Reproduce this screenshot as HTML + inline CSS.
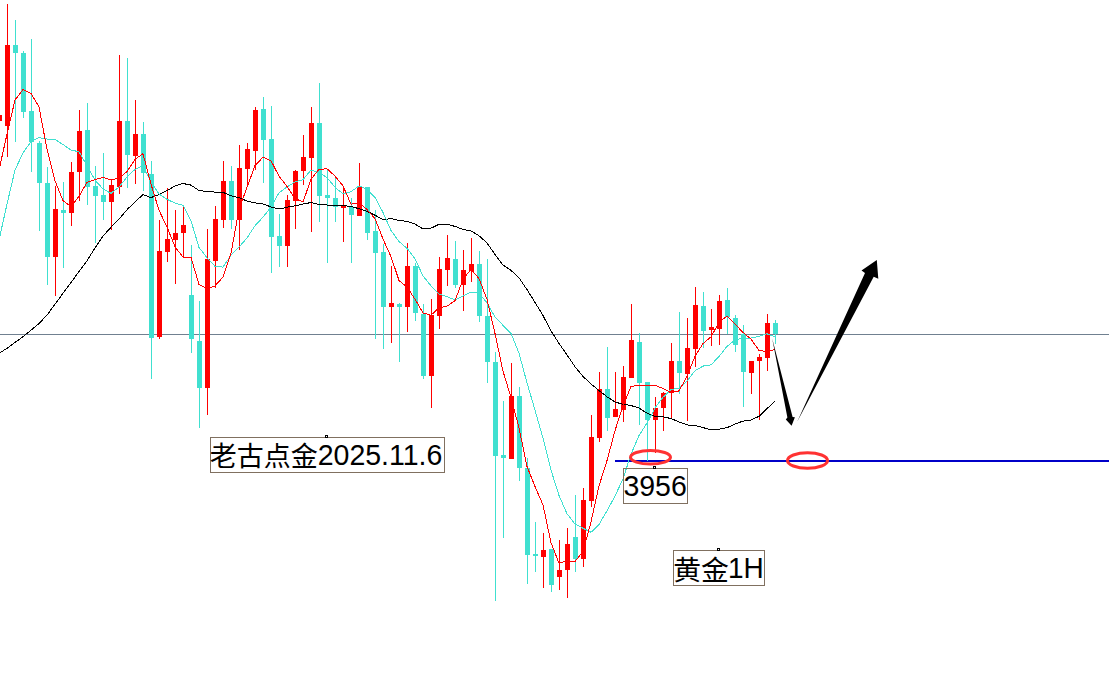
<!DOCTYPE html>
<html><head><meta charset="utf-8"><style>
html,body{margin:0;padding:0;background:#fff;}
body{width:1109px;height:684px;overflow:hidden;}
svg{display:block;}
</style></head><body>
<svg width="1109" height="684" viewBox="0 0 1109 684">
<rect width="1109" height="684" fill="#ffffff"/>
<rect x="0" y="334" width="1109" height="1" fill="#708090"/>
<rect x="615" y="460" width="494" height="2" fill="#0000c8"/>
<g shape-rendering="crispEdges">
<rect x="-1" y="112" width="1" height="12" fill="#ff0000"/><rect x="-3" y="115" width="5" height="6" fill="#ff0000"/><rect x="7" y="4" width="1" height="153" fill="#ff0000"/><rect x="5" y="45" width="5" height="81" fill="#ff0000"/><rect x="15" y="20" width="1" height="122" fill="#40e0d0"/><rect x="13" y="45" width="5" height="8" fill="#40e0d0"/><rect x="23" y="51" width="1" height="67" fill="#40e0d0"/><rect x="21" y="53" width="5" height="59" fill="#40e0d0"/><rect x="31" y="39" width="1" height="133" fill="#40e0d0"/><rect x="29" y="111" width="5" height="31" fill="#40e0d0"/><rect x="39" y="141" width="1" height="90" fill="#40e0d0"/><rect x="37" y="143" width="5" height="40" fill="#40e0d0"/><rect x="47" y="167" width="1" height="118" fill="#40e0d0"/><rect x="45" y="183" width="5" height="74" fill="#40e0d0"/><rect x="55" y="186" width="1" height="110" fill="#ff0000"/><rect x="53" y="209" width="5" height="48" fill="#ff0000"/><rect x="63" y="182" width="1" height="86" fill="#40e0d0"/><rect x="61" y="210" width="5" height="3" fill="#40e0d0"/><rect x="71" y="162" width="1" height="64" fill="#ff0000"/><rect x="69" y="172" width="5" height="41" fill="#ff0000"/><rect x="79" y="110" width="1" height="91" fill="#ff0000"/><rect x="77" y="131" width="5" height="41" fill="#ff0000"/><rect x="87" y="103" width="1" height="102" fill="#40e0d0"/><rect x="85" y="130" width="5" height="57" fill="#40e0d0"/><rect x="95" y="166" width="1" height="77" fill="#40e0d0"/><rect x="93" y="186" width="5" height="10" fill="#40e0d0"/><rect x="103" y="153" width="1" height="67" fill="#40e0d0"/><rect x="101" y="195" width="5" height="7" fill="#40e0d0"/><rect x="111" y="180" width="1" height="50" fill="#ff0000"/><rect x="109" y="185" width="5" height="17" fill="#ff0000"/><rect x="119" y="55" width="1" height="139" fill="#ff0000"/><rect x="117" y="121" width="5" height="66" fill="#ff0000"/><rect x="127" y="58" width="1" height="130" fill="#40e0d0"/><rect x="125" y="121" width="5" height="34" fill="#40e0d0"/><rect x="135" y="100" width="1" height="84" fill="#ff0000"/><rect x="133" y="134" width="5" height="22" fill="#ff0000"/><rect x="143" y="122" width="1" height="69" fill="#40e0d0"/><rect x="141" y="134" width="5" height="39" fill="#40e0d0"/><rect x="151" y="161" width="1" height="218" fill="#40e0d0"/><rect x="149" y="174" width="5" height="164" fill="#40e0d0"/><rect x="159" y="220" width="1" height="119" fill="#ff0000"/><rect x="157" y="251" width="5" height="86" fill="#ff0000"/><rect x="167" y="188" width="1" height="74" fill="#ff0000"/><rect x="165" y="239" width="5" height="13" fill="#ff0000"/><rect x="175" y="210" width="1" height="74" fill="#ff0000"/><rect x="173" y="233" width="5" height="7" fill="#ff0000"/><rect x="183" y="207" width="1" height="51" fill="#ff0000"/><rect x="181" y="225" width="5" height="8" fill="#ff0000"/><rect x="191" y="245" width="1" height="108" fill="#40e0d0"/><rect x="189" y="295" width="5" height="44" fill="#40e0d0"/><rect x="199" y="301" width="1" height="127" fill="#40e0d0"/><rect x="197" y="341" width="5" height="47" fill="#40e0d0"/><rect x="207" y="229" width="1" height="186" fill="#ff0000"/><rect x="205" y="259" width="5" height="129" fill="#ff0000"/><rect x="215" y="206" width="1" height="82" fill="#ff0000"/><rect x="213" y="219" width="5" height="42" fill="#ff0000"/><rect x="223" y="161" width="1" height="67" fill="#ff0000"/><rect x="221" y="181" width="5" height="39" fill="#ff0000"/><rect x="231" y="166" width="1" height="63" fill="#40e0d0"/><rect x="229" y="181" width="5" height="39" fill="#40e0d0"/><rect x="239" y="145" width="1" height="105" fill="#ff0000"/><rect x="237" y="168" width="5" height="52" fill="#ff0000"/><rect x="247" y="143" width="1" height="44" fill="#ff0000"/><rect x="245" y="149" width="5" height="20" fill="#ff0000"/><rect x="255" y="107" width="1" height="63" fill="#ff0000"/><rect x="253" y="110" width="5" height="41" fill="#ff0000"/><rect x="263" y="97" width="1" height="86" fill="#40e0d0"/><rect x="261" y="109" width="5" height="31" fill="#40e0d0"/><rect x="271" y="106" width="1" height="167" fill="#40e0d0"/><rect x="269" y="139" width="5" height="98" fill="#40e0d0"/><rect x="279" y="214" width="1" height="53" fill="#40e0d0"/><rect x="277" y="236" width="5" height="10" fill="#40e0d0"/><rect x="287" y="195" width="1" height="72" fill="#ff0000"/><rect x="285" y="200" width="5" height="46" fill="#ff0000"/><rect x="295" y="170" width="1" height="59" fill="#ff0000"/><rect x="293" y="171" width="5" height="30" fill="#ff0000"/><rect x="303" y="135" width="1" height="50" fill="#ff0000"/><rect x="301" y="157" width="5" height="14" fill="#ff0000"/><rect x="311" y="107" width="1" height="125" fill="#ff0000"/><rect x="309" y="123" width="5" height="35" fill="#ff0000"/><rect x="319" y="83" width="1" height="139" fill="#40e0d0"/><rect x="317" y="123" width="5" height="73" fill="#40e0d0"/><rect x="327" y="170" width="1" height="93" fill="#40e0d0"/><rect x="325" y="195" width="5" height="3" fill="#40e0d0"/><rect x="335" y="177" width="1" height="45" fill="#40e0d0"/><rect x="333" y="198" width="5" height="9" fill="#40e0d0"/><rect x="343" y="188" width="1" height="54" fill="#ff0000"/><rect x="341" y="206" width="5" height="2" fill="#ff0000"/><rect x="351" y="198" width="1" height="65" fill="#40e0d0"/><rect x="349" y="207" width="5" height="8" fill="#40e0d0"/><rect x="359" y="163" width="1" height="53" fill="#ff0000"/><rect x="357" y="187" width="5" height="29" fill="#ff0000"/><rect x="367" y="187" width="1" height="53" fill="#40e0d0"/><rect x="365" y="187" width="5" height="46" fill="#40e0d0"/><rect x="375" y="210" width="1" height="129" fill="#40e0d0"/><rect x="373" y="231" width="5" height="22" fill="#40e0d0"/><rect x="383" y="244" width="1" height="105" fill="#40e0d0"/><rect x="381" y="252" width="5" height="55" fill="#40e0d0"/><rect x="391" y="266" width="1" height="77" fill="#ff0000"/><rect x="389" y="303" width="5" height="4" fill="#ff0000"/><rect x="399" y="303" width="1" height="59" fill="#40e0d0"/><rect x="397" y="304" width="5" height="3" fill="#40e0d0"/><rect x="407" y="243" width="1" height="89" fill="#ff0000"/><rect x="405" y="266" width="5" height="41" fill="#ff0000"/><rect x="415" y="263" width="1" height="58" fill="#40e0d0"/><rect x="413" y="266" width="5" height="47" fill="#40e0d0"/><rect x="423" y="304" width="1" height="75" fill="#40e0d0"/><rect x="421" y="314" width="5" height="62" fill="#40e0d0"/><rect x="431" y="299" width="1" height="109" fill="#ff0000"/><rect x="429" y="315" width="5" height="61" fill="#ff0000"/><rect x="439" y="257" width="1" height="72" fill="#ff0000"/><rect x="437" y="269" width="5" height="47" fill="#ff0000"/><rect x="447" y="235" width="1" height="51" fill="#ff0000"/><rect x="445" y="258" width="5" height="12" fill="#ff0000"/><rect x="455" y="241" width="1" height="47" fill="#40e0d0"/><rect x="453" y="259" width="5" height="26" fill="#40e0d0"/><rect x="463" y="250" width="1" height="61" fill="#ff0000"/><rect x="461" y="270" width="5" height="15" fill="#ff0000"/><rect x="471" y="238" width="1" height="44" fill="#ff0000"/><rect x="469" y="264" width="5" height="7" fill="#ff0000"/><rect x="479" y="251" width="1" height="71" fill="#40e0d0"/><rect x="477" y="264" width="5" height="52" fill="#40e0d0"/><rect x="487" y="259" width="1" height="124" fill="#40e0d0"/><rect x="485" y="316" width="5" height="46" fill="#40e0d0"/><rect x="495" y="352" width="1" height="249" fill="#40e0d0"/><rect x="493" y="362" width="5" height="94" fill="#40e0d0"/><rect x="503" y="401" width="1" height="137" fill="#40e0d0"/><rect x="501" y="455" width="5" height="3" fill="#40e0d0"/><rect x="511" y="363" width="1" height="96" fill="#ff0000"/><rect x="509" y="396" width="5" height="63" fill="#ff0000"/><rect x="519" y="387" width="1" height="94" fill="#40e0d0"/><rect x="517" y="396" width="5" height="72" fill="#40e0d0"/><rect x="527" y="458" width="1" height="126" fill="#40e0d0"/><rect x="525" y="468" width="5" height="87" fill="#40e0d0"/><rect x="535" y="522" width="1" height="50" fill="#40e0d0"/><rect x="533" y="554" width="5" height="2" fill="#40e0d0"/><rect x="543" y="533" width="1" height="55" fill="#ff0000"/><rect x="541" y="550" width="5" height="7" fill="#ff0000"/><rect x="551" y="549" width="1" height="43" fill="#40e0d0"/><rect x="549" y="549" width="5" height="36" fill="#40e0d0"/><rect x="559" y="540" width="1" height="50" fill="#ff0000"/><rect x="557" y="570" width="5" height="7" fill="#ff0000"/><rect x="567" y="528" width="1" height="70" fill="#ff0000"/><rect x="565" y="544" width="5" height="26" fill="#ff0000"/><rect x="575" y="495" width="1" height="77" fill="#40e0d0"/><rect x="573" y="537" width="5" height="22" fill="#40e0d0"/><rect x="583" y="488" width="1" height="79" fill="#ff0000"/><rect x="581" y="500" width="5" height="59" fill="#ff0000"/><rect x="591" y="415" width="1" height="92" fill="#ff0000"/><rect x="589" y="437" width="5" height="64" fill="#ff0000"/><rect x="599" y="372" width="1" height="70" fill="#ff0000"/><rect x="597" y="389" width="5" height="49" fill="#ff0000"/><rect x="607" y="347" width="1" height="84" fill="#40e0d0"/><rect x="605" y="389" width="5" height="29" fill="#40e0d0"/><rect x="615" y="372" width="1" height="45" fill="#ff0000"/><rect x="613" y="409" width="5" height="8" fill="#ff0000"/><rect x="623" y="366" width="1" height="56" fill="#ff0000"/><rect x="621" y="377" width="5" height="33" fill="#ff0000"/><rect x="631" y="304" width="1" height="74" fill="#ff0000"/><rect x="629" y="340" width="5" height="38" fill="#ff0000"/><rect x="639" y="333" width="1" height="92" fill="#40e0d0"/><rect x="637" y="342" width="5" height="41" fill="#40e0d0"/><rect x="647" y="382" width="1" height="79" fill="#40e0d0"/><rect x="645" y="382" width="5" height="38" fill="#40e0d0"/><rect x="655" y="397" width="1" height="56" fill="#ff0000"/><rect x="653" y="408" width="5" height="12" fill="#ff0000"/><rect x="663" y="392" width="1" height="39" fill="#ff0000"/><rect x="661" y="393" width="5" height="15" fill="#ff0000"/><rect x="671" y="343" width="1" height="75" fill="#ff0000"/><rect x="669" y="361" width="5" height="32" fill="#ff0000"/><rect x="679" y="312" width="1" height="82" fill="#40e0d0"/><rect x="677" y="361" width="5" height="12" fill="#40e0d0"/><rect x="687" y="318" width="1" height="103" fill="#ff0000"/><rect x="685" y="348" width="5" height="26" fill="#ff0000"/><rect x="695" y="287" width="1" height="80" fill="#ff0000"/><rect x="693" y="305" width="5" height="44" fill="#ff0000"/><rect x="703" y="292" width="1" height="56" fill="#40e0d0"/><rect x="701" y="306" width="5" height="25" fill="#40e0d0"/><rect x="711" y="309" width="1" height="37" fill="#ff0000"/><rect x="709" y="327" width="5" height="3" fill="#ff0000"/><rect x="719" y="295" width="1" height="50" fill="#ff0000"/><rect x="717" y="301" width="5" height="28" fill="#ff0000"/><rect x="727" y="288" width="1" height="46" fill="#40e0d0"/><rect x="725" y="300" width="5" height="17" fill="#40e0d0"/><rect x="735" y="315" width="1" height="37" fill="#40e0d0"/><rect x="733" y="318" width="5" height="27" fill="#40e0d0"/><rect x="743" y="325" width="1" height="82" fill="#40e0d0"/><rect x="741" y="334" width="5" height="38" fill="#40e0d0"/><rect x="751" y="361" width="1" height="33" fill="#ff0000"/><rect x="749" y="361" width="5" height="12" fill="#ff0000"/><rect x="759" y="354" width="1" height="66" fill="#ff0000"/><rect x="757" y="357" width="5" height="4" fill="#ff0000"/><rect x="767" y="314" width="1" height="57" fill="#ff0000"/><rect x="765" y="323" width="5" height="35" fill="#ff0000"/><rect x="775" y="320" width="1" height="24" fill="#40e0d0"/><rect x="773" y="323" width="5" height="11" fill="#40e0d0"/>
</g>
<polyline points="-1.0,353.4 7.0,348.3 15.0,342.5 23.0,336.6 31.0,330.2 39.0,323.5 47.0,315.1 55.0,304.2 63.0,293.3 71.0,282.5 79.0,271.6 87.0,260.7 95.0,247.9 103.0,236.0 111.0,227.3 119.0,219.1 127.0,209.7 135.0,201.8 143.0,194.7 151.0,197.6 159.0,194.6 167.0,190.6 175.0,186.0 183.0,183.5 191.0,185.1 199.0,190.6 207.0,191.4 215.0,192.1 223.0,192.4 231.0,195.8 239.0,197.6 247.0,201.1 255.0,202.9 263.0,203.9 271.0,207.0 279.0,209.1 287.0,207.2 295.0,205.9 303.0,204.1 311.0,202.5 319.0,204.6 327.0,205.0 335.0,205.4 343.0,205.5 351.0,206.5 359.0,208.7 367.0,211.3 375.0,215.2 383.0,219.7 391.0,218.6 399.0,220.4 407.0,221.3 415.0,224.0 423.0,229.0 431.0,228.2 439.0,224.3 447.0,224.2 455.0,226.4 463.0,229.4 471.0,230.9 479.0,235.8 487.0,242.9 495.0,254.4 503.0,265.1 511.0,270.4 519.0,277.8 527.0,289.6 535.0,302.4 543.0,315.5 551.0,330.9 559.0,343.4 567.0,354.9 575.0,366.7 583.0,376.5 591.0,383.9 599.0,390.6 607.0,396.8 615.0,402.0 623.0,404.3 631.0,405.5 639.0,408.1 647.0,413.2 655.0,416.3 663.0,416.9 671.0,418.5 679.0,421.9 687.0,424.9 695.0,425.6 703.0,427.6 711.0,429.7 719.0,429.2 727.0,427.7 735.0,424.0 743.0,421.1 751.0,420.0 759.0,416.3 767.0,408.6 775.0,401.2" fill="none" stroke="#000000" stroke-width="1" stroke-linejoin="round" shape-rendering="crispEdges"/>
<polyline points="-1.0,240.0 7.0,204.0 15.0,170.0 23.0,153.0 31.0,141.5 39.0,137.6 47.0,139.0 55.0,139.5 63.0,144.5 71.0,150.1 79.0,151.7 87.0,165.8 95.0,180.1 103.0,189.0 111.0,193.3 119.0,187.1 127.0,176.9 135.0,169.4 143.0,165.5 151.0,182.1 159.0,194.1 167.0,199.3 175.0,203.1 183.0,205.4 191.0,220.8 199.0,247.4 207.0,257.8 215.0,266.3 223.0,267.1 231.0,255.3 239.0,247.0 247.0,238.0 255.0,225.7 263.0,217.2 271.0,207.0 279.0,192.8 287.0,186.9 295.0,182.0 303.0,179.6 311.0,170.0 319.0,172.7 327.0,177.6 335.0,187.3 343.0,193.9 351.0,191.7 359.0,185.9 367.0,189.2 375.0,197.4 383.0,212.4 391.0,230.4 399.0,241.5 407.0,248.3 415.0,258.9 423.0,275.9 431.0,285.9 439.0,294.1 447.0,296.6 455.0,299.9 463.0,296.1 471.0,292.2 479.0,293.2 487.0,302.8 495.0,317.0 503.0,325.3 511.0,333.4 519.0,353.2 527.0,382.9 535.0,410.0 543.0,438.0 551.0,470.1 559.0,495.5 567.0,513.7 575.0,524.0 583.0,528.2 591.0,532.3 599.0,524.5 607.0,510.8 615.0,496.1 623.0,478.8 631.0,454.2 639.0,435.5 647.0,423.1 655.0,408.0 663.0,397.3 671.0,389.6 679.0,388.1 687.0,381.1 695.0,370.7 703.0,366.1 711.0,364.8 719.0,356.6 727.0,346.4 735.0,340.1 743.0,338.0 751.0,338.0 759.0,336.4 767.0,333.8 775.0,336.7" fill="none" stroke="#40e0d0" stroke-width="1" stroke-linejoin="round" shape-rendering="crispEdges"/>
<polyline points="-1.0,170.0 7.0,134.0 15.0,100.0 23.0,89.5 31.0,93.4 39.0,107.0 47.0,149.4 55.0,180.6 63.0,200.7 71.0,206.7 79.0,196.3 87.0,182.2 95.0,179.6 103.0,177.4 111.0,179.9 119.0,177.9 127.0,171.7 135.0,159.3 143.0,153.7 151.0,184.2 159.0,210.2 167.0,227.0 175.0,246.8 183.0,257.1 191.0,257.3 199.0,284.6 207.0,288.6 215.0,285.9 223.0,277.1 231.0,253.3 239.0,209.4 247.0,187.4 255.0,165.5 263.0,157.2 271.0,160.7 279.0,176.2 287.0,186.3 295.0,198.5 303.0,202.0 311.0,179.3 319.0,169.3 327.0,168.8 335.0,176.1 343.0,185.8 351.0,204.2 359.0,202.5 367.0,209.6 375.0,218.6 383.0,239.0 391.0,256.6 399.0,280.5 407.0,287.1 415.0,299.2 423.0,312.9 431.0,315.2 439.0,307.8 447.0,306.2 455.0,300.6 463.0,279.4 471.0,269.2 479.0,278.6 487.0,299.4 495.0,333.5 503.0,371.2 511.0,397.6 519.0,427.9 527.0,466.4 535.0,486.6 543.0,504.9 551.0,542.7 559.0,563.1 567.0,561.0 575.0,561.5 583.0,551.5 591.0,522.0 599.0,485.8 607.0,460.6 615.0,430.6 623.0,406.0 631.0,386.5 639.0,385.2 647.0,385.7 655.0,385.3 663.0,388.5 671.0,392.8 679.0,390.9 687.0,376.6 695.0,356.1 703.0,343.6 711.0,336.9 719.0,322.4 727.0,316.1 735.0,324.1 743.0,332.4 751.0,339.1 759.0,350.4 767.0,351.5 775.0,349.4" fill="none" stroke="#ff0000" stroke-width="1" stroke-linejoin="round" shape-rendering="crispEdges"/>
<ellipse cx="650.5" cy="457.3" rx="20" ry="6.8" fill="none" stroke="#ff3232" stroke-width="3"/>
<ellipse cx="807.5" cy="460.5" rx="20" ry="7.8" fill="none" stroke="#ff3232" stroke-width="3"/>
<polygon points="772.2,338.5 787.4,417.6 785.8,419.4 791.6,425.8 794.9,417.2 792.6,417" fill="#000"/>
<polygon points="797.2,421.7 865,273 861.5,270.5 876.8,259.9 878.3,278.7 873.7,276.8" fill="#000"/>
<g fill="none" stroke="#807060" stroke-width="1" shape-rendering="crispEdges">
<rect x="210.5" y="437.5" width="234" height="35"/>
<rect x="623.5" y="468.5" width="64" height="35"/>
<rect x="673.5" y="550.5" width="91" height="35"/>
</g>
<g fill="none" stroke="#000" stroke-width="1" shape-rendering="crispEdges">
<rect x="325.5" y="435.5" width="2" height="2"/>
<rect x="653.5" y="466.5" width="2" height="2"/>
<rect x="717.5" y="548.5" width="2" height="2"/>
</g>
<g font-family='"Liberation Sans", "Noto Sans CJK SC", sans-serif' fill="#000">
<text x="209.7" y="465.8" font-size="27">老古点金</text>
<text x="317.7" y="465" font-size="28.5" transform="translate(0 465) scale(1 1.03) translate(0 -465)">2025.11.6</text>
<text x="623.4" y="496" font-size="28.5" transform="translate(0 496) scale(1 1.05) translate(0 -496)">3956</text>
<text x="673.3" y="579.6" font-size="27.8">黄金</text>
<text x="728" y="577.6" font-size="28" transform="translate(0 577.6) scale(1 1.03) translate(0 -577.6)">1H</text>
</g>
</svg>
</body></html>
